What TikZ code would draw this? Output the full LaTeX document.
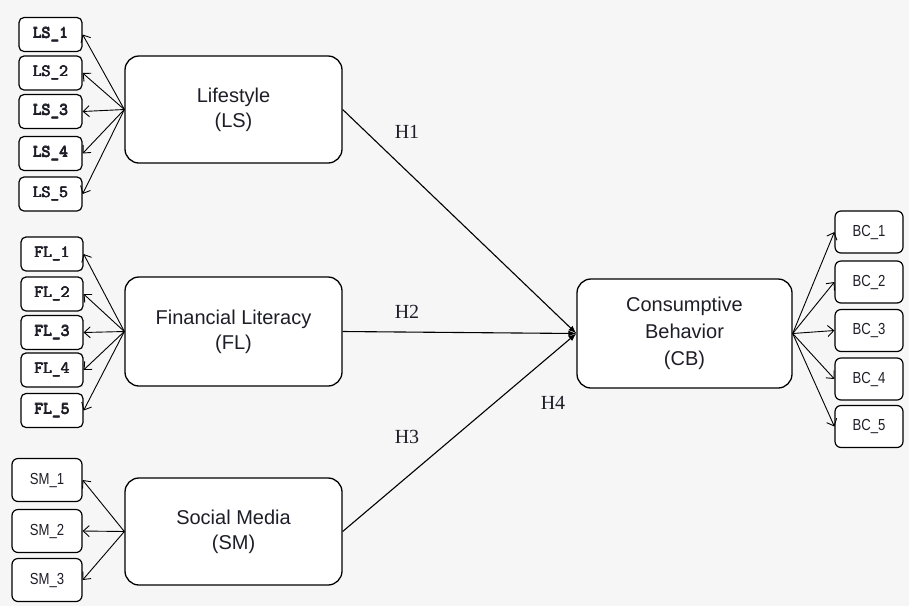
\documentclass[tikz,border=0pt]{standalone}
\usepackage{fontspec}
\setmainfont{Liberation Sans}
\newfontfamily\hfont{Liberation Serif}
\newfontfamily\narrowfont[FakeStretch=0.82]{Liberation Sans}
\usetikzlibrary{arrows.meta}
\definecolor{bgc}{RGB}{246,246,246}
\definecolor{txt}{RGB}{30,30,40}
\newcommand{\heavytt}[1]{\leavevmode\rlap{#1}\rlap{\kern0.45pt #1}\rlap{\kern0.9pt #1}\rlap{\raisebox{0.35pt}{\kern0.45pt #1}}\kern0.9pt\phantom{#1}}
\tikzset{
  latent/.style={draw, line width=1.3pt, rounded corners=14pt, fill=white, align=center,
    minimum width=217pt, minimum height=107pt, inner sep=0pt, text=txt,
    font=\fontsize{20}{25}\selectfont},
  indmono/.style={draw, line width=1.2pt, rounded corners=5pt, fill=white, inner sep=0pt,
    minimum width=63pt, minimum height=34pt, text=txt,
    font=\ttfamily\fontsize{17}{17}\selectfont},
  indsans/.style={draw, line width=1.2pt, rounded corners=6pt, fill=white, inner sep=0pt,
    minimum width=69pt, minimum height=42pt, text=txt, font=\narrowfont\fontsize{16}{16}\selectfont},
  load/.style={line width=0.9pt, -{Straight Barb[length=6pt,width=11pt,line width=0.9pt]}},
  hyp/.style={line width=1.1pt, -{Latex[length=8pt,width=6pt]}},
  hlabel/.style={font=\hfont\fontsize{20}{20}\selectfont, text=txt, inner sep=0pt}
}
\begin{document}
\begin{tikzpicture}[x=1pt,y=-1pt]
\fill[bgc] (0,0) rectangle (909,606);
\useasboundingbox (0,0) rectangle (909,606);

% latent constructs
\node[latent] (LS) at (233.5,109.5) {Lifestyle\\(LS)};
\node[latent, minimum height=109pt] (FL) at (233.5,331.5) {Financial Literacy\\(FL)};
\node[latent] (SM) at (233.5,531.5) {Social Media\\(SM)};
\node[latent, minimum width=215pt, minimum height=109pt, font=\fontsize{20}{27}\selectfont] (CB) at (684.5,333.5) {Consumptive\\Behavior\\(CB)};

% LS indicators
\node[indmono] (ls1) at (50.5,34.5) {\heavytt{LS\_1}};
\node[indmono] (ls2) at (50.5,73) {\heavytt{LS\_2}};
\node[indmono] (ls3) at (50.5,111.5) {\heavytt{LS\_3}};
\node[indmono] (ls4) at (50.5,153.5) {\heavytt{LS\_4}};
\node[indmono] (ls5) at (50.5,194) {\heavytt{LS\_5}};

% FL indicators
\node[indmono, minimum width=62pt] (fl1) at (52,254) {\heavytt{FL\_1}};
\node[indmono, minimum width=62pt] (fl2) at (52,294) {\heavytt{FL\_2}};
\node[indmono, minimum width=62pt] (fl3) at (52,332.5) {\heavytt{FL\_3}};
\node[indmono, minimum width=62pt] (fl4) at (52,370) {\heavytt{FL\_4}};
\node[indmono, minimum width=62pt] (fl5) at (52,410.5) {\heavytt{FL\_5}};

% SM indicators
\node[indsans, minimum width=70pt, minimum height=43pt] (sm1) at (47,480) {SM\_1};
\node[indsans, minimum width=70pt, minimum height=43pt] (sm2) at (47,531) {SM\_2};
\node[indsans, minimum width=70pt, minimum height=43pt] (sm3) at (47,580) {SM\_3};

% BC indicators
\node[indsans, minimum width=68pt] (bc1) at (869,232) {BC\_1};
\node[indsans, minimum width=68pt] (bc2) at (869,282) {BC\_2};
\node[indsans, minimum width=68pt] (bc3) at (869,330.5) {BC\_3};
\node[indsans, minimum width=68pt] (bc4) at (869,379) {BC\_4};
\node[indsans, minimum width=68pt] (bc5) at (869,426.5) {BC\_5};

% loadings
\foreach \i in {ls1,ls2,ls3,ls4,ls5} \draw[load] (LS.west) -- (\i.east);
\foreach \i in {fl1,fl2,fl3,fl4,fl5} \draw[load] (FL.west) -- (\i.east);
\foreach \i in {sm1,sm2,sm3} \draw[load] (SM.west) -- (\i.east);
\foreach \i in {bc1,bc2,bc3,bc4,bc5} \draw[load] (CB.east) -- (\i.west);

% hypotheses
\draw[hyp] (LS.east) -- (CB.west);
\draw[hyp] (FL.east) -- (CB.west);
\draw[hyp] (SM.east) -- (CB.west);

\node[hlabel] (h1) at (407,132) {H1};
\node[hlabel] (h2) at (407,312) {H2};
\node[hlabel] (h3) at (407,437) {H3};
\node[hlabel] (h4) at (553,403) {H4};
\end{tikzpicture}
\end{document}
